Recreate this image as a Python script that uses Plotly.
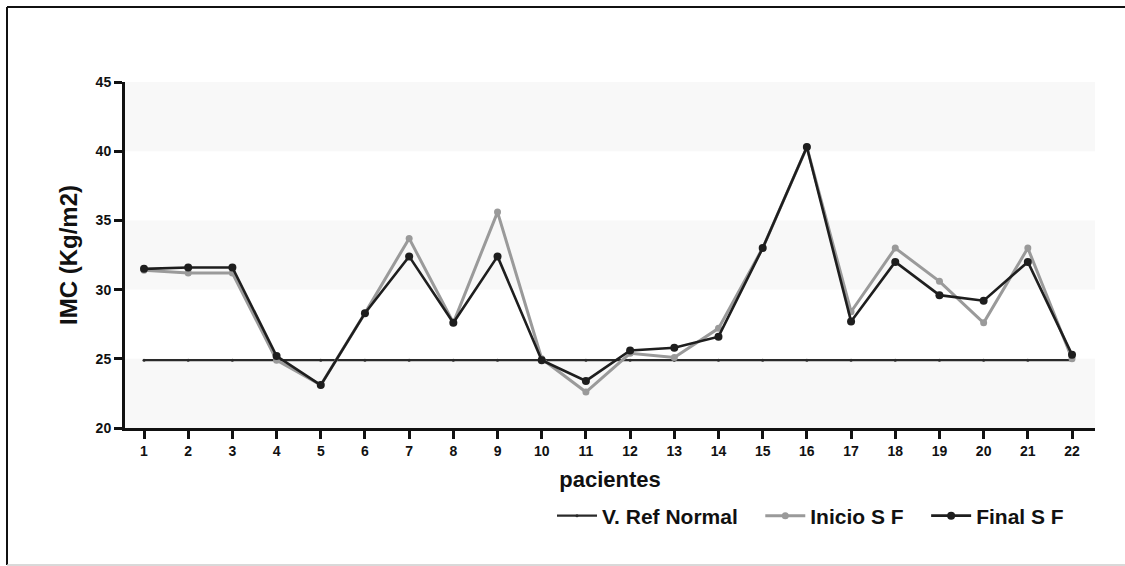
import plotly.graph_objects as go

pacientes = list(range(1, 23))
tick_labels = [str(p) for p in pacientes]

ref_normal = [24.9] * 22
inicio_sf = [31.4, 31.2, 31.2, 24.9, 23.1, 28.3, 33.7, 27.6, 35.6, 25.0, 22.6,
             25.4, 25.1, 27.2, 33.0, 40.3, 28.4, 33.0, 30.6, 27.6, 33.0, 25.0]
final_sf = [31.5, 31.6, 31.6, 25.2, 23.1, 28.3, 32.4, 27.6, 32.4, 24.9, 23.4,
            25.6, 25.8, 26.6, 33.0, 40.3, 27.7, 32.0, 29.6, 29.2, 32.0, 25.3]

band_ranges = [(40, 45), (30, 35), (20, 25)]

FONT = "Arial, Liberation Sans, sans-serif"
PAD = "\u00a0" * 3  # extra room between legend entries

# plot-area geometry in pixels, used to place the frame around the figure
W, H = 1125, 566
L, R, T, B = 125, 1095, 82, 428


def px_x(v):
    return (v - L) / (R - L)


def px_y(v):
    return (B - v) / (B - T)


fig = go.Figure()

fig.add_trace(go.Scatter(
    x=pacientes, y=ref_normal, name="V. Ref Normal" + PAD, mode="lines+markers",
    line=dict(color="#2a2a2a", width=2.2), marker=dict(size=3, color="#2a2a2a"),
))
fig.add_trace(go.Scatter(
    x=pacientes, y=inicio_sf, name="Inicio S F" + PAD, mode="lines+markers",
    line=dict(color="#9a9a9a", width=3), marker=dict(size=7, color="#9a9a9a"),
))
fig.add_trace(go.Scatter(
    x=pacientes, y=final_sf, name="Final S F", mode="lines+markers",
    line=dict(color="#1e1e1e", width=2.6), marker=dict(size=8, color="#1e1e1e"),
))

shapes = []
for lo, hi in band_ranges:
    shapes.append(dict(type="rect", xref="paper", yref="y", x0=0, x1=1, y0=lo, y1=hi,
                       fillcolor="#f8f8f8", line=dict(width=0), layer="below"))
# outer frame
shapes.append(dict(type="line", xref="paper", yref="paper",
                   x0=px_x(7), x1=px_x(7), y0=px_y(7), y1=px_y(565),
                   line=dict(color="#111", width=2)))
shapes.append(dict(type="line", xref="paper", yref="paper",
                   x0=px_x(7), x1=px_x(1130), y0=px_y(7), y1=px_y(7),
                   line=dict(color="#111", width=2)))
shapes.append(dict(type="line", xref="paper", yref="paper",
                   x0=px_x(7), x1=px_x(1130), y0=px_y(565), y1=px_y(565),
                   line=dict(color="#cccccc", width=1.5)))

fig.update_layout(
    width=W, height=H,
    margin=dict(l=L, r=W - R, t=T, b=H - B),
    paper_bgcolor="white", plot_bgcolor="white",
    font=dict(family=FONT, color="#111"),
    shapes=shapes,
    showlegend=True,
    legend=dict(
        orientation="h", x=px_x(552), xanchor="left", y=px_y(516), yanchor="middle",
        font=dict(family=FONT, size=21, weight="bold", color="#111"),
        bgcolor="rgba(0,0,0,0)", itemwidth=40, tracegroupgap=0,
    ),
    xaxis=dict(
        range=[0.57, 22.52], tickmode="array", tickvals=pacientes, ticktext=tick_labels,
        showgrid=False, zeroline=False, showline=True, linecolor="#111", linewidth=3,
        ticks="outside", ticklen=8, tickwidth=3, tickcolor="#111",
        tickfont=dict(family=FONT, size=14, weight="bold", color="#111"),
        title=dict(text="pacientes", font=dict(family=FONT, size=22, weight="bold"), standoff=14),
    ),
    yaxis=dict(
        range=[20, 45], tickvals=[20, 25, 30, 35, 40, 45],
        showgrid=False, zeroline=False, showline=True, linecolor="#111", linewidth=3,
        ticks="outside", ticklen=8, tickwidth=3, tickcolor="#111",
        tickfont=dict(family=FONT, size=14, weight="bold", color="#111"),
        title=dict(text="IMC (Kg/m2)", font=dict(family=FONT, size=24, weight="bold"), standoff=12),
    ),
)

fig.write_html("out.html")
